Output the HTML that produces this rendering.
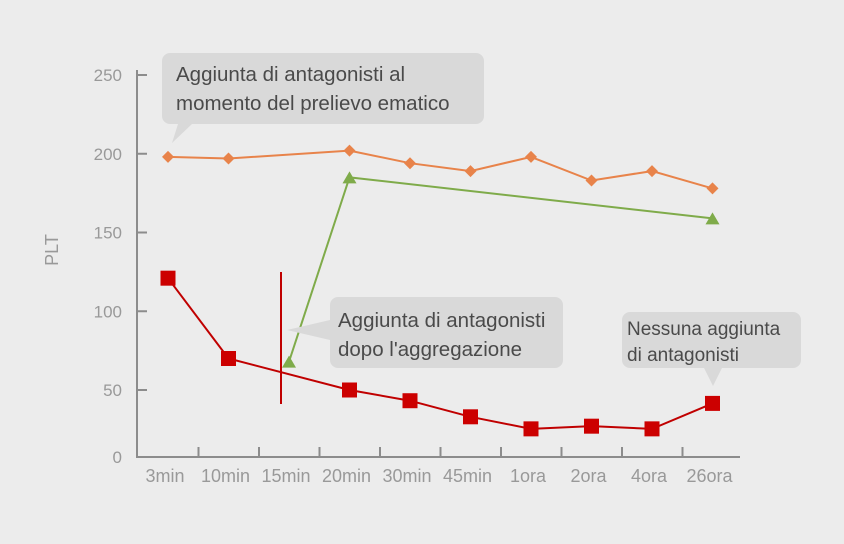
<!DOCTYPE html>
<html><head><meta charset="utf-8"><style>
body{margin:0;background:#ececec;}
svg{display:block;font-family:"Liberation Sans",sans-serif;}
</style></head><body>
<svg width="844" height="544">
<rect width="844" height="544" fill="#ececec"/>
<g id="axes"></g><g id="series"></g>
<g>
<path d="M170 53 H476 a8 8 0 0 1 8 8 V116 a8 8 0 0 1 -8 8 H192 L172 143 L178 124 H170 a8 8 0 0 1 -8 -8 V61 a8 8 0 0 1 8 -8Z" fill="#d9d9d9"/>
<text x="176" y="81" font-size="20.5" fill="#4a4a4a">Aggiunta di antagonisti al</text>
<text x="176" y="110" font-size="20.5" fill="#4a4a4a">momento del prelievo ematico</text></g>
<g>
<path d="M338 297 H555 a8 8 0 0 1 8 8 V360 a8 8 0 0 1 -8 8 H338 a8 8 0 0 1 -8 -8 V340 L287 330 L330 320 V305 a8 8 0 0 1 8 -8Z" fill="#d9d9d9"/>
<text x="338" y="327" font-size="20.5" fill="#4a4a4a">Aggiunta di antagonisti</text>
<text x="338" y="356" font-size="20.5" fill="#4a4a4a">dopo l'aggregazione</text></g>
<g>
<path d="M630 312 H793 a8 8 0 0 1 8 8 V360 a8 8 0 0 1 -8 8 H722 L713 386 L704 368 H630 a8 8 0 0 1 -8 -8 V320 a8 8 0 0 1 8 -8Z" fill="#d9d9d9"/>
<text x="627" y="335" font-size="19" fill="#4a4a4a">Nessuna aggiunta</text>
<text x="627" y="361" font-size="19" fill="#4a4a4a">di antagonisti</text></g>
<line x1="281" y1="272" x2="281" y2="404" stroke="#c00000" stroke-width="2"/>
</svg>
<script>
const categories=["3min","10min","15min","20min","30min","45min","1ora","2ora","4ora","26ora"];
const yTicks=[0,50,100,150,200,250];
const orangeCats=["3min","10min","20min","30min","45min","1ora","2ora","4ora","26ora"];
const orangeVals=[198,197,202,194,189,198,183,189,178];
const greenCats=["15min","20min","26ora"];
const greenVals=[68,185,159];
const redCats=["3min","10min","20min","30min","45min","1ora","2ora","4ora","26ora"];
const redVals=[121,70,50,42,30,21,23,21,40];
const NS="http://www.w3.org/2000/svg";
function x(c){return 168+categories.indexOf(c)*60.5;}
function y(v){return v<=50?457-v*67/50:390-(v-50)*1.575;}
function mk(t,a,p){const e=document.createElementNS(NS,t);for(const k in a)e.setAttribute(k,a[k]);p.appendChild(e);return e;}
const ax=document.getElementById('axes'),se=document.getElementById('series');
const g="#8c8c8c";
let l=mk('line',{x1:137,y1:70,x2:137,y2:458,stroke:g,'stroke-width':2},ax);


l=mk('line',{x1:136,y1:457,x2:740,y2:457,stroke:g,'stroke-width':2},ax);


yTicks.forEach(v=>{
 const yy=v===0?457:y(v);
 const t=mk('line',{x1:137,y1:yy,x2:147,y2:yy,stroke:g,'stroke-width':2},ax);
 
 
 const tx=mk('text',{x:122,y:yy+6,'font-size':17,fill:'#999','text-anchor':'end'},ax);
 tx.textContent=v;
 
 
});
const yt=mk('text',{x:58,y:250,'font-size':18,fill:'#999','text-anchor':'middle',transform:'rotate(-90 58 250)'},ax);
yt.textContent='PLT';


categories.forEach((c,i)=>{
 if(i>0){const t=mk('line',{x1:x(c)-30,y1:447,x2:x(c)-30,y2:457,stroke:g,'stroke-width':2},ax);
 
 }
 const tx=mk('text',{x:x(c)-3,y:482,'font-size':18,fill:'#999','text-anchor':'middle'},ax);
 tx.textContent=c;
 
 
});
function line(cats,vals,col,name){
 const p=mk('polyline',{points:cats.map((c,i)=>x(c)+','+y(vals[i])).join(' '),fill:'none',stroke:col,'stroke-width':2},se);
 
 
}
line(orangeCats,orangeVals,'#e8834a','orange-series-line');
line(greenCats,greenVals,'#7fab4a','green-series-line');
line(redCats,redVals,'#c00000','red-series-line');
orangeCats.forEach((c,i)=>{const X=x(c),Y=y(orangeVals[i]);
 const m=mk('polygon',{points:`${X},${Y-6} ${X+6},${Y} ${X},${Y+6} ${X-6},${Y}`,fill:'#e8834a'},se);
 
 });
greenCats.forEach((c,i)=>{const X=x(c),Y=y(greenVals[i]);
 const m=mk('polygon',{points:`${X},${Y-6} ${X+7},${Y+6} ${X-7},${Y+6}`,fill:'#7fab4a'},se);
 
 });
redCats.forEach((c,i)=>{const X=x(c),Y=y(redVals[i]);
 const m=mk('rect',{x:X-7.5,y:Y-7.5,width:15,height:15,fill:'#cc0000'},se);
 
 });
</script>
</body></html>
